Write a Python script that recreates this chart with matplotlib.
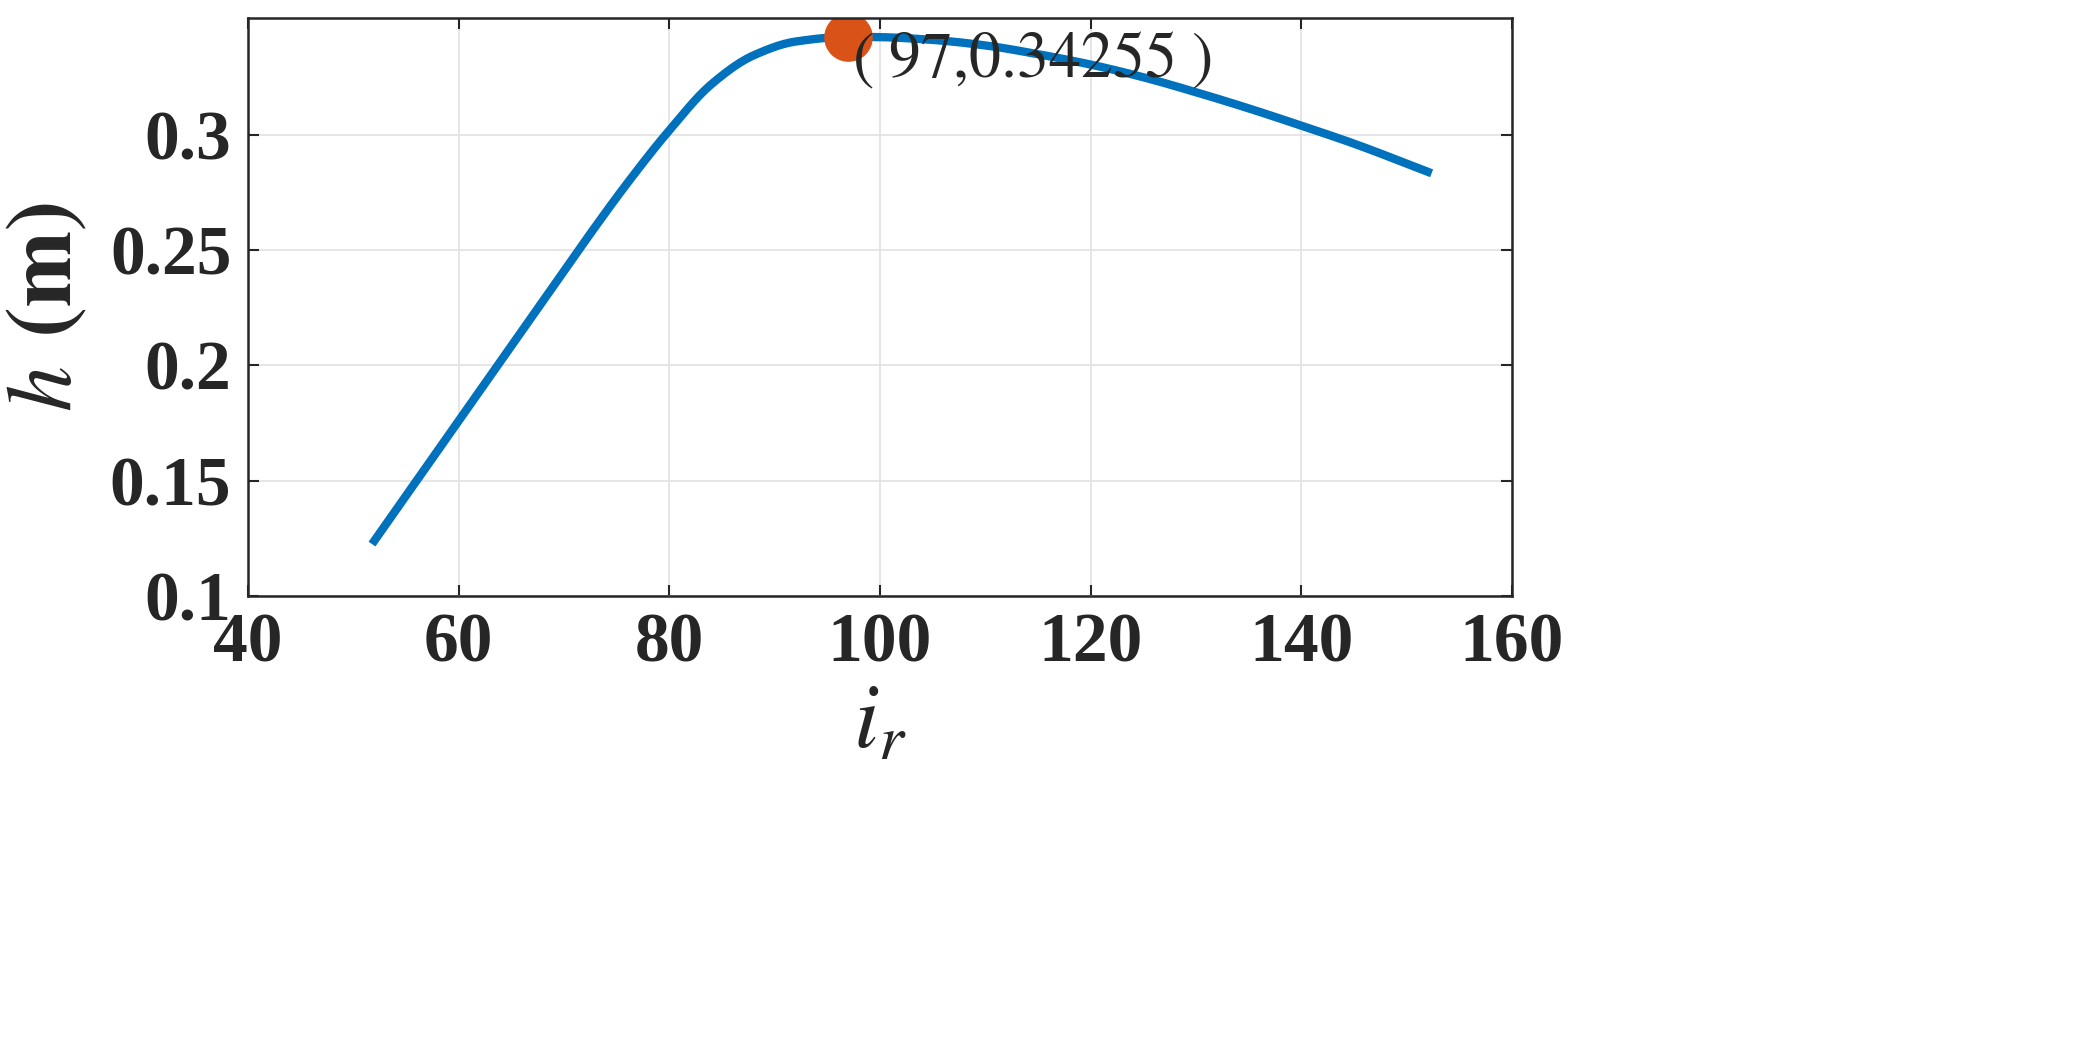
import matplotlib
matplotlib.use("Agg")
import matplotlib.pyplot as plt
import numpy as np

ir = [52, 56, 60, 64, 68, 72, 76, 80, 84, 88, 92, 97, 100, 105, 110, 115, 120, 125, 130, 135, 140, 145, 152]
h = [0.124, 0.150, 0.176, 0.202, 0.228, 0.254, 0.279, 0.302, 0.322, 0.3345, 0.3405, 0.34255, 0.3424, 0.3412,
     0.3388, 0.3350, 0.3305, 0.3250, 0.3185, 0.3115, 0.3040, 0.2962, 0.2840]
peak_x, peak_y = 97, 0.34255
xticks = [40, 60, 80, 100, 120, 140, 160]
yticks = [0.1, 0.15, 0.2, 0.25, 0.3]
C = '#262626'

plt.rcParams['mathtext.fontset'] = 'stix'
fig = plt.figure(figsize=(20.9, 10.42), dpi=100)
ax = fig.add_axes([248/2090, 1-596/1042, (1512-248)/2090, (596-18)/1042])
xs = np.linspace(ir[0], ir[-1], 400)
def pchip(x, y, xn):
    x = np.asarray(x, float); y = np.asarray(y, float)
    hdx = np.diff(x); d = np.diff(y)/hdx
    m = np.zeros_like(y)
    for k in range(1, len(x)-1):
        if d[k-1]*d[k] > 0:
            w1 = 2*hdx[k]+hdx[k-1]; w2 = hdx[k]+2*hdx[k-1]
            m[k] = (w1+w2)/(w1/d[k-1]+w2/d[k])
    m[0] = d[0]; m[-1] = d[-1]
    idx = np.clip(np.searchsorted(x, xn)-1, 0, len(x)-2)
    t = (xn-x[idx])/hdx[idx]
    h00 = 2*t**3-3*t**2+1; h10 = t**3-2*t**2+t; h01 = -2*t**3+3*t**2; h11 = t**3-t**2
    return h00*y[idx]+h10*hdx[idx]*m[idx]+h01*y[idx+1]+h11*hdx[idx]*m[idx+1]
ax.plot(xs, pchip(ir, h, xs), color='#0072BD', lw=6)
ax.plot([peak_x], [peak_y], 'o', color='#D95319', ms=34)
ax.text(97.3, 0.3325, r'$(\ 97{,}0.34255\ )$', fontsize=46, va='center', ha='left', color=C)
ax.set_xlim(40, 160)
ax.set_ylim(0.1, 0.3507)
ax.set_xticks(xticks)
ax.set_yticks(yticks)
ax.set_xticklabels([str(v) for v in xticks])
ax.set_yticklabels(['0.1', '0.15', '0.2', '0.25', '0.3'])
for lab in ax.get_xticklabels() + ax.get_yticklabels():
    lab.set_fontfamily('Liberation Serif'); lab.set_fontweight('bold'); lab.set_fontsize(50); lab.set_color(C)
ax.grid(True, color='#e2e2e2', lw=1.2)
ax.tick_params(direction='in', length=8, width=1.5, top=True, right=True, pad=12, colors=C)
for s in ax.spines.values():
    s.set_linewidth(1.8); s.set_color(C)
ax.set_xlabel(r'$i_r$', fontsize=66, labelpad=0, color=C)
ax.set_ylabel(r'$h$ $\mathbf{(m)}$', fontsize=66, labelpad=14, color=C)
fig.savefig('out.png', dpi=100, facecolor='white')
